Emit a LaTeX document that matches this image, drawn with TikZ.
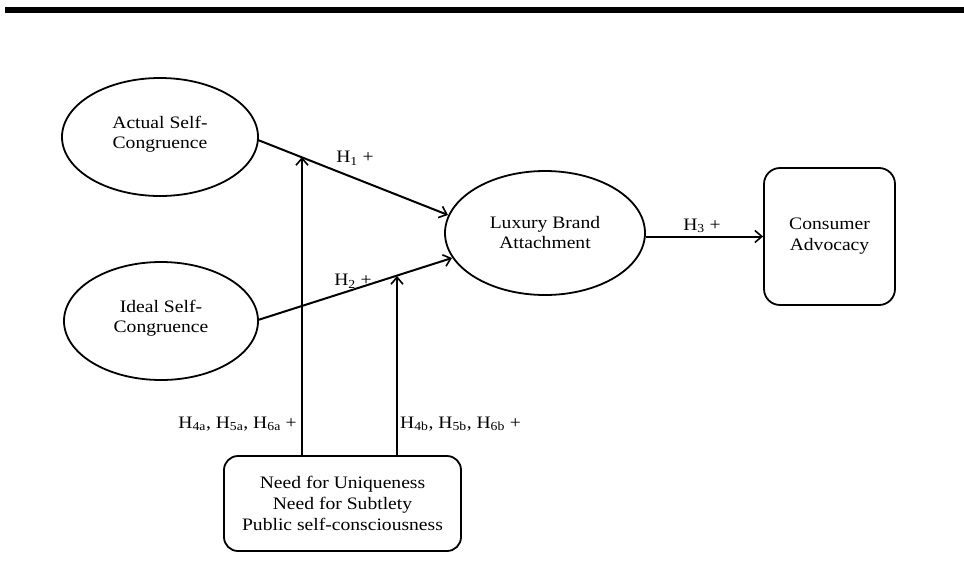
\documentclass[tikz,border=0pt]{standalone}
\usepackage{fontspec}
\setmainfont{Liberation Serif}[FakeStretch=1.12]
\usetikzlibrary{arrows.meta,shapes.geometric}
\begin{document}
\begin{tikzpicture}[x=1pt,y=-1pt,
  ln/.style={line width=2pt},
  arr/.style={ln,-{Straight Barb[length=7pt,width=12pt,line width=1.6pt]}},
  ell/.style={ellipse,draw,line width=1.8pt,align=center,font=\fontsize{17.5}{20}\selectfont},
  rbox/.style={draw,line width=1.8pt,rounded corners=16pt,align=center,font=\fontsize{17.5}{21}\selectfont},
  lbl/.style={font=\fontsize{17.5}{21}\selectfont,inner sep=0pt}]
\useasboundingbox (0,0) rectangle (964,584);
\fill (5,7) rectangle (964,13);
\node[ell,minimum width=196pt,minimum height=118pt] (act) at (160,137) {Actual Self-\\Congruence\\[-10pt]};
\node[ell,minimum width=194pt,minimum height=118pt] (ide) at (161,321) {Ideal Self-\\Congruence\\[-10pt]};
\node[ell,minimum width=200pt,minimum height=124pt] (lux) at (545,233) {Luxury Brand\\Attachment};
\node[rbox,minimum width=131pt,minimum height=137pt] (adv) at (829.5,236.5) {Consumer\\Advocacy};
\node[rbox,minimum width=237pt,minimum height=95pt,rounded corners=14pt] (need) at (342.5,503.5) {Need for Uniqueness\\Need for Subtlety\\Public self-consciousness};
\coordinate (a1) at (258,140);
\coordinate (b1) at (448,215);
\coordinate (a2) at (258,320);
\coordinate (b2) at (452,258);
\draw[arr] (a1) -- (b1);
\draw[arr] (a2) -- (b2);
\draw[arr] (adv.west -| lux.east) -- (adv.west);
\coordinate (m1) at (302,157);
\coordinate (m2) at (397,276);
\draw[arr] (need.north -| m1) -- (m1);
\draw[arr] (need.north -| m2) -- (m2);
\node[lbl] (h1) at (355,158) {H\textsubscript{1} +};
\node[lbl] (h2) at (353,281) {H\textsubscript{2} +};
\node[lbl] (h3) at (702,226) {H\textsubscript{3} +};
\node[lbl,anchor=east] (h4a) at (297,424) {H\textsubscript{4a}, H\textsubscript{5a}, H\textsubscript{6a} +};
\node[lbl,anchor=west] (h4b) at (400,424) {H\textsubscript{4b}, H\textsubscript{5b}, H\textsubscript{6b} +};
\end{tikzpicture}
\end{document}
